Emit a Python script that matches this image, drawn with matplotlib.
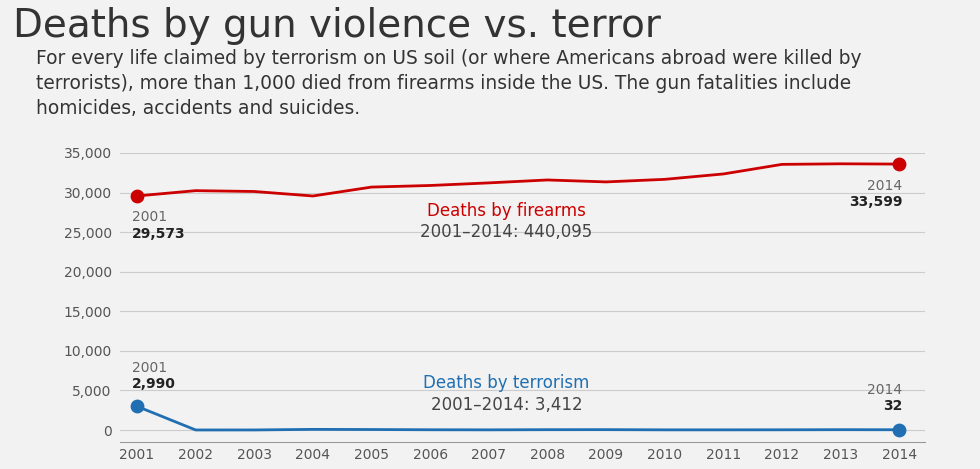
import matplotlib
matplotlib.use('Agg')
import matplotlib.pyplot as plt

years = list(range(2001, 2015))
firearms = [29573, 30242, 30136, 29569, 30694, 30896, 31224, 31593, 31347, 31672, 32351, 33563, 33636, 33599]
terror = [2990, 4, 6, 80, 60, 30, 20, 40, 45, 20, 20, 25, 40, 32]
yticks = [0, 5000, 10000, 15000, 20000, 25000, 30000, 35000]

red = '#cc0000'
blue = '#1f6fb2'
bg = '#f2f2f2'

fig = plt.figure(figsize=(9.8, 4.69), dpi=100, facecolor=bg)
ax = fig.add_axes([120 / 980, 27 / 469, 805 / 980, 289 / 469])
ax.set_facecolor(bg)

fig.text(0.013, 0.985, 'Deaths by gun violence vs. terror', fontsize=28, color='#333333', va='top')
fig.text(0.037, 0.895, 'For every life claimed by terrorism on US soil (or where Americans abroad were killed by\n'
         'terrorists), more than 1,000 died from firearms inside the US. The gun fatalities include\n'
         'homicides, accidents and suicides.', fontsize=13.4, color='#333333', va='top', linespacing=1.4)

ax.plot(years, firearms, color=red, lw=2, zorder=3)
ax.plot(years, terror, color=blue, lw=2, zorder=3)
ax.scatter([years[0], years[-1]], [firearms[0], firearms[-1]], color=red, s=80, zorder=4)
ax.scatter([years[0], years[-1]], [terror[0], terror[-1]], color=blue, s=80, zorder=4)

ax.set_xlim(2000.71, 2014.44)
ax.set_ylim(-1516, 35000)
ax.set_yticks(yticks)
ax.set_yticklabels([f'{v:,}' for v in yticks])
ax.set_xticks(years)
ax.tick_params(length=0, labelsize=10, colors='#555555', pad=6)
ax.tick_params(axis='x', pad=4)
ax.grid(axis='y', color='#cccccc', lw=0.8)
for s in ['top', 'right', 'left']:
    ax.spines[s].set_visible(False)
ax.spines['bottom'].set_color('#999999')

def endlabel(x, y, year, val, ha):
    ax.text(x, y, f'{year}', fontsize=10, color='#666666', ha=ha, va='bottom')
    ax.text(x, y - 300, f'{val:,}', fontsize=10, color='#222222', fontweight='bold', ha=ha, va='top')

endlabel(2000.92, 26000, 2001, firearms[0], 'left')
endlabel(2014.05, 30000, 2014, firearms[-1], 'right')
endlabel(2000.92, 7000, 2001, terror[0], 'left')
endlabel(2014.05, 4200, 2014, terror[-1], 'right')

ax.text(2007.3, 27700, 'Deaths by firearms', color=red, fontsize=12, ha='center', va='center')
ax.text(2007.3, 25000, '2001–2014: 440,095', color='#444444', fontsize=12, ha='center', va='center')
ax.text(2007.3, 6000, 'Deaths by terrorism', color=blue, fontsize=12, ha='center', va='center')
ax.text(2007.3, 3200, '2001–2014: 3,412', color='#444444', fontsize=12, ha='center', va='center')

fig.savefig('out.png', dpi=100, facecolor=bg)
